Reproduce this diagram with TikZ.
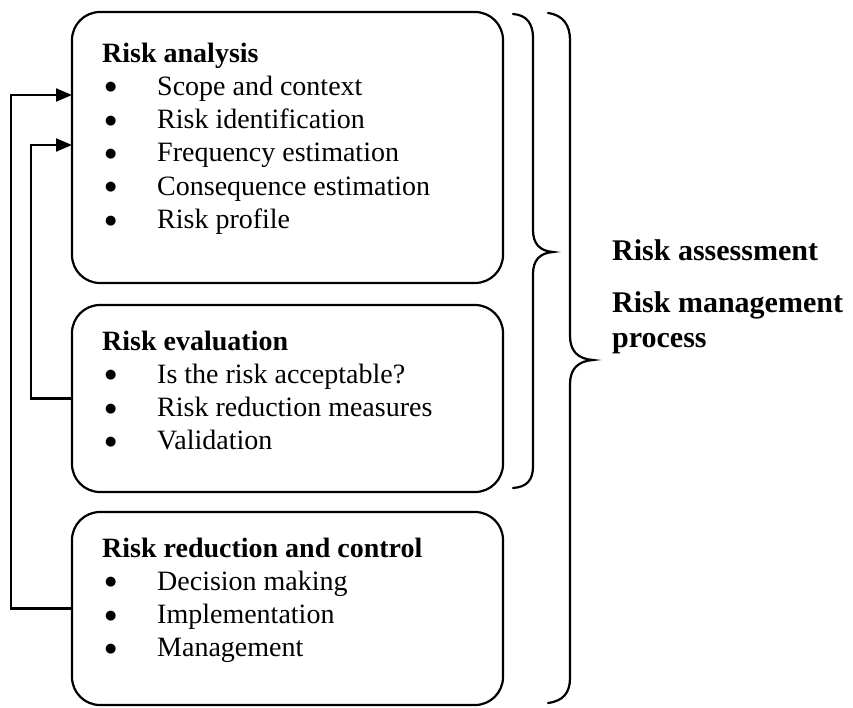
\documentclass[tikz,border=0pt]{standalone}
\usepackage{fontspec}
\setmainfont{Liberation Serif}
\newfontfamily\symf{DejaVu Sans}
\usetikzlibrary{arrows.meta}
\begin{document}
\begin{tikzpicture}[x=1pt,y=-1pt,
  box/.style={draw, line width=2.2pt, rounded corners=28pt, minimum width=431pt, inner sep=0pt},
  txt/.style={anchor=base west, inner sep=0pt, font=\fontsize{28}{33.3}\selectfont},
  side/.style={anchor=base west, inner sep=0pt, align=left, font=\fontsize{30}{35}\selectfont\bfseries},
  conn/.style={line width=2.2pt, -{Triangle[length=16pt,width=13pt]}},
  brace/.style={line width=2.2pt, line cap=round}]
\useasboundingbox (0,0) rectangle (853,707);
\def\bul{\hspace{3pt}\raisebox{4.5pt}{\symf\fontsize{13}{13}\selectfont ●}}
% boxes
\node[box, minimum height=271pt] (ra) at (287.5,147.5) {};
\node[box, minimum height=187pt] (re) at (287.5,398.5) {};
\node[box, minimum height=193pt] (rc) at (287.5,608.5) {};
% box texts
\node[txt] (tra) at (102,62) {\begin{tabular}[t]{@{}p{55pt}@{}l@{}}
\multicolumn{2}{@{}l@{}}{\textbf{Risk analysis}}\\
\bul & Scope and context\\
\bul & Risk identification\\
\bul & Frequency estimation\\
\bul & Consequence estimation\\
\bul & Risk profile
\end{tabular}};
\node[txt] (tre) at (102,350) {\begin{tabular}[t]{@{}p{55pt}@{}l@{}}
\multicolumn{2}{@{}l@{}}{\textbf{Risk evaluation}}\\
\bul & Is the risk acceptable?\\
\bul & Risk reduction measures\\
\bul & Validation
\end{tabular}};
\node[txt] (trc) at (102,557) {\begin{tabular}[t]{@{}p{55pt}@{}l@{}}
\multicolumn{2}{@{}l@{}}{\textbf{Risk reduction and control}}\\
\bul & Decision making\\
\bul & Implementation\\
\bul & Management
\end{tabular}};
% connectors
\coordinate (a1) at (72,95);
\coordinate (a2) at (72,145);
\draw[conn] (rc.west) -- ++(-60,0) |- (a1);
\draw[conn] (re.west) -- ++(-40,0) |- (a2);
% inner brace
\draw[brace] (513,14) .. controls (527,15) and (533,24) .. (533,38)
  -- (533,230) .. controls (533,244) and (540,251) .. (553,252)
  .. controls (540,253) and (533,260) .. (533,274)
  -- (533,466) .. controls (533,480) and (527,487) .. (513,488);
% outer brace
\draw[brace] (548,13) .. controls (563,15) and (570,25) .. (570,40)
  -- (570,336) .. controls (570,351) and (578,359) .. (593,360)
  .. controls (578,361) and (570,369) .. (570,384)
  -- (570,678) .. controls (570,693) and (563,701) .. (548,703);
% side labels
\node[side] (sa) at (612,260) {Risk assessment};
\node[side] (sm) at (612,347) {Risk management\\process};
\end{tikzpicture}
\end{document}
